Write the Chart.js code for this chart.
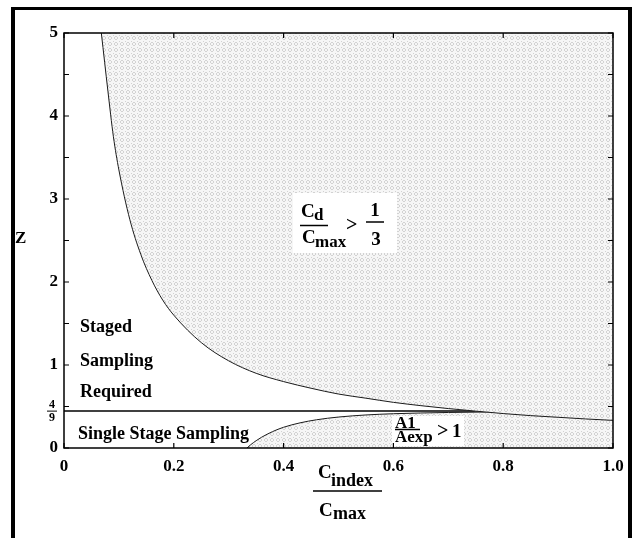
<!DOCTYPE html>
<html>
<head>
<meta charset="utf-8">
<script src="https://cdn.jsdelivr.net/npm/chart.js@4/dist/chart.umd.min.js"></script>
<style>
  html, body { margin:0; padding:0; background:#fff; width:637px; height:538px; overflow:hidden; }
  #c { position:absolute; left:0; top:0; }
  #frame { position:absolute; left:11px; top:7px; width:621px; height:600px; box-sizing:border-box;
           border-left:4px solid #000; border-right:4px solid #000; border-top:3px solid #000; pointer-events:none; }
</style>
</head>
<body>
<canvas id="c" width="637" height="538"></canvas>
<div id="frame"></div>
<script>
// ---- data ----
// decreasing boundary curve (Cd/Cmax = 1/3)
const xDec = [0.068, 0.08, 0.09, 0.10, 0.12, 0.14, 0.16, 0.18, 0.20, 0.25, 0.30, 0.35, 0.40, 0.45, 0.50, 0.55, 0.60, 0.65, 0.70, 0.75, 0.80, 0.85, 0.90, 0.95, 1.00];
const zDec = [5.0, 4.3, 3.75, 3.35, 2.75, 2.33, 2.02, 1.78, 1.60, 1.27, 1.05, 0.90, 0.80, 0.72, 0.65, 0.60, 0.55, 0.51, 0.475, 0.444, 0.415, 0.39, 0.37, 0.35, 0.333];
// rising boundary curve (A1/Aexp = 1)
const xRise = [0.3333, 0.34, 0.35, 0.36, 0.38, 0.40, 0.43, 0.46, 0.50, 0.55, 0.60, 0.65, 0.70, 0.80, 0.90, 1.00];
const zRise = [0, 0.039, 0.088, 0.13, 0.198, 0.25, 0.303, 0.34, 0.373, 0.398, 0.413, 0.422, 0.428, 0.436, 0.439, 0.441];
// horizontal threshold Z = 4/9
const xThr = [0, 1];
const zThr = [4/9, 4/9];
// axis ticks
const xTickValues = [0, 0.2, 0.4, 0.6, 0.8, 1.0];
const xTickLabels = ['0', '0.2', '0.4', '0.6', '0.8', '1.0'];
const yTickValues = [0, 1, 2, 3, 4, 5];
const yTickLabels = ['0', '1', '2', '3', '4', '5'];

const SERIF = '"Liberation Serif", "Times New Roman", serif';

function pts(xs, ys) { return xs.map((x, i) => ({ x: x, y: ys[i] })); }

// dotted grey fill pattern
function makePattern() {
  const t = document.createElement('canvas');
  t.width = 6; t.height = 6;
  const g = t.getContext('2d');
  g.fillStyle = '#f6f6f6'; g.fillRect(0, 0, 6, 6);
  g.fillStyle = '#d2d2d2';
  [[1,0],[2,0],[0,1],[3,1],[0,2],[3,2],[1,3],[2,3],[5,5]].forEach(p => g.fillRect(p[0], p[1], 1, 1));
  return document.getElementById('c').getContext('2d').createPattern(t, 'repeat');
}
const pattern = makePattern();

function txt(ctx, s, x, y, size, align) {
  ctx.font = 'bold ' + size + 'px ' + SERIF;
  ctx.textAlign = align || 'left';
  ctx.textBaseline = 'alphabetic';
  ctx.fillStyle = '#000';
  ctx.fillText(s, x, y);
}
function bar(ctx, x1, x2, y, w) {
  ctx.beginPath(); ctx.lineWidth = w || 1.5; ctx.strokeStyle = '#000';
  ctx.moveTo(x1, y); ctx.lineTo(x2, y); ctx.stroke();
}

const decor = {
  id: 'decor',
  afterDatasetsDraw(chart) {
    const ctx = chart.ctx, a = chart.chartArea;
    const xs = chart.scales.x, ys = chart.scales.y;
    ctx.save();
    // white boxes behind labels
    ctx.fillStyle = '#fff';
    ctx.fillRect(293, 193, 104, 60);
    ctx.fillRect(392, 416, 72, 30);
    // plot box
    ctx.strokeStyle = '#000'; ctx.lineWidth = 1.5;
    ctx.strokeRect(a.left, a.top, a.right - a.left, a.bottom - a.top);
    // inward tick marks
    ctx.lineWidth = 1.2;
    ctx.beginPath();
    xTickValues.forEach(v => {
      const px = xs.getPixelForValue(v);
      ctx.moveTo(px, a.bottom); ctx.lineTo(px, a.bottom - 5);
      ctx.moveTo(px, a.top); ctx.lineTo(px, a.top + 5);
    });
    for (let v = 0; v <= 5; v += 0.5) {
      const py = ys.getPixelForValue(v);
      ctx.moveTo(a.left, py); ctx.lineTo(a.left + 5, py);
      ctx.moveTo(a.right, py); ctx.lineTo(a.right - 5, py);
    }
    ctx.stroke();

    // 4/9 fraction label on y axis
    const p49 = ys.getPixelForValue(4/9);
    txt(ctx, '4', 52, p49 - 3, 12, 'center');
    bar(ctx, 47, 57, p49, 1);
    txt(ctx, '9', 52, p49 + 10, 12, 'center');

    // region labels
    txt(ctx, 'Staged', 80, 332, 18);
    txt(ctx, 'Sampling', 80, 366, 18);
    txt(ctx, 'Required', 80, 397, 18);
    txt(ctx, 'Single Stage Sampling', 78, 439, 18);

    // Cd / Cmax > 1/3
    txt(ctx, 'C', 301, 217, 19);
    txt(ctx, 'd', 314, 220, 17);
    bar(ctx, 300, 328, 225.5, 1.5);
    txt(ctx, 'C', 302, 243, 19);
    txt(ctx, 'max', 315, 247, 17);
    txt(ctx, '>', 346, 231, 20);
    txt(ctx, '1', 375, 216, 19, 'center');
    bar(ctx, 366, 384, 222, 1.5);
    txt(ctx, '3', 376, 245, 19, 'center');

    // A1 / Aexp > 1
    txt(ctx, 'A1', 395, 428, 17);
    bar(ctx, 395, 420, 429.5, 1.5);
    txt(ctx, 'Aexp', 395, 442, 17);
    txt(ctx, '>', 437, 437, 20);
    txt(ctx, '1', 452, 437, 19);

    // x axis title: C_index / C_max
    txt(ctx, 'C', 318, 478, 19);
    txt(ctx, 'index', 331, 486, 18);
    bar(ctx, 313, 382, 491, 1.5);
    txt(ctx, 'C', 319, 516, 19);
    txt(ctx, 'max', 333, 519, 18);

    // y axis title
    txt(ctx, 'Z', 15, 243, 17);
    ctx.restore();
  }
};

const tickFont = { family: SERIF, size: 17, weight: 'bold' };

new Chart(document.getElementById('c'), {
  type: 'line',
  data: {
    datasets: [
      { data: pts(xDec, zDec), borderColor: '#1a1a1a', borderWidth: 1, pointRadius: 0,
        fill: 'end', backgroundColor: pattern, cubicInterpolationMode: 'monotone' },
      { data: pts(xThr, zThr), borderColor: '#000', borderWidth: 1.5, pointRadius: 0, fill: false },
      { data: pts(xRise, zRise), borderColor: '#1a1a1a', borderWidth: 1, pointRadius: 0,
        fill: 'origin', backgroundColor: pattern, cubicInterpolationMode: 'monotone' }
    ]
  },
  options: {
    responsive: false,
    animation: false,
    devicePixelRatio: 1,
    layout: { padding: { left: 0, top: 33, right: 24, bottom: 0 } },
    plugins: { legend: { display: false }, tooltip: { enabled: false } },
    scales: {
      x: {
        type: 'linear', min: 0, max: 1,
        afterFit(s) { s.height = 90; },
        grid: { display: false, drawTicks: false },
        border: { display: false },
        afterBuildTicks(s) { s.ticks = xTickValues.map(v => ({ value: v })); },
        ticks: {
          padding: 8, color: '#000', font: tickFont, maxRotation: 0, autoSkip: false,
          callback(v) { const i = xTickValues.findIndex(t => Math.abs(t - v) < 1e-9); return i >= 0 ? xTickLabels[i] : ''; }
        }
      },
      y: {
        type: 'linear', min: 0, max: 5,
        afterFit(s) { s.width = 64; },
        grid: { display: false, drawTicks: false },
        border: { display: false },
        afterBuildTicks(s) { s.ticks = yTickValues.map(v => ({ value: v })); },
        ticks: {
          padding: 6, color: '#000', font: tickFont, autoSkip: false,
          callback(v) { const i = yTickValues.indexOf(v); return i >= 0 ? yTickLabels[i] : ''; }
        }
      }
    }
  },
  plugins: [decor]
});
</script>
</body>
</html>
